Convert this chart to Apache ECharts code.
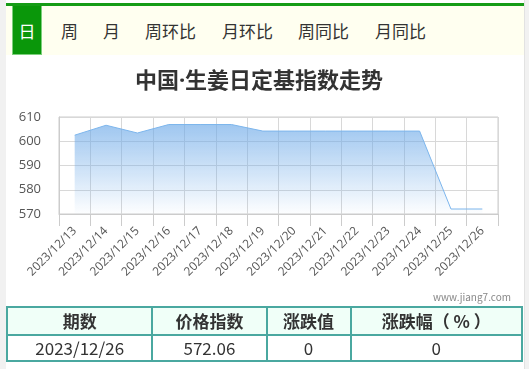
<!DOCTYPE html>
<html><head><meta charset="utf-8">
<script src="https://cdn.jsdelivr.net/npm/echarts@6/dist/echarts.min.js"></script>
<style>
html,body{margin:0;padding:0;width:529px;height:369px;overflow:hidden;background:#f1f1f1;font-family:"Noto Sans CJK SC","Noto Sans",sans-serif;}
#page{position:absolute;left:6px;top:0;width:518px;height:369px;background:#fff;border-right:1px solid #e2e2e2;}
#chart{position:absolute;left:0;top:0;width:529px;height:369px;}
#topline{position:absolute;left:6px;top:3px;width:518px;height:3px;background:#169c16;}
#tabs{position:absolute;left:6px;top:6px;width:518px;height:49px;background:#fffff0;}
.tab{position:absolute;top:0;height:49px;line-height:49px;font-size:17px;color:#333;}
.tab.sel{background:#0a970a;color:#fff;border:1px solid #7ccf7c;border-top:none;box-sizing:border-box;text-align:center;}
#tbl{position:absolute;left:6px;top:306px;border-collapse:collapse;width:517px;font-size:17px;color:#333;}
#tbl td{border:2px solid #4aa8a0;text-align:center;padding:0;line-height:22px;}
#tbl tr.h td{background:#f0fff8;font-weight:bold;height:26px;}
#tbl tr.b td{height:24px;}
#wm{position:absolute;right:18px;top:289px;font-size:10px;color:#888;}
</style></head>
<body>
<div id="page"></div>
<div id="chart"></div>
<div id="topline"></div>
<div id="tabs"></div>
<div id="wm">www.jiang7.com</div>
<table id="tbl"></table>
<script>
const categories = ["2023/12/13","2023/12/14","2023/12/15","2023/12/16","2023/12/17","2023/12/18","2023/12/19","2023/12/20","2023/12/21","2023/12/22","2023/12/23","2023/12/24","2023/12/25","2023/12/26"];
const values = [602.5,606.6,603.4,606.9,606.9,606.9,604.2,604.2,604.2,604.2,604.2,604.2,572.06,572.06];
const yTicks = [570,580,590,600,610];
const tabNames = ["日","周","月","周环比","月环比","周同比","月同比"];
const tabLefts = [6,55,97,139,216,292,369];
const tableHead = ["期数","价格指数","涨跌值","涨跌幅（ % ）"];
const tableRow = ["2023/12/26","572.06","0","0"];
const colWidths = [145,114,84,174];

const tabs = document.getElementById('tabs');
tabNames.forEach((t,i)=>{
  const d=document.createElement('div');
  d.className='tab'+(i===0?' sel':'');
  d.textContent=t;
  d.style.left=tabLefts[i]+'px';
  if(i===0){d.style.width='30px';}
  tabs.appendChild(d);
});
const tbl=document.getElementById('tbl');
const trh=document.createElement('tr');trh.className='h';
tableHead.forEach((t,i)=>{const td=document.createElement('td');td.textContent=t;td.style.width=colWidths[i]+'px';trh.appendChild(td);});
const trb=document.createElement('tr');trb.className='b';
tableRow.forEach(t=>{const td=document.createElement('td');td.textContent=t;trb.appendChild(td);});
tbl.appendChild(trh);tbl.appendChild(trb);

const chart = echarts.init(document.getElementById('chart'), null, {renderer:'canvas'});
chart.setOption({
  animation:false,
  title:{text:'中国·生姜日定基指数走势',left:254,top:66,textAlign:'center',
    textStyle:{fontSize:22,fontWeight:'bold',color:'#333',fontFamily:'"Noto Sans","Noto Sans CJK SC",sans-serif'}},
  grid:{left:59,right:31,top:117,bottom:155,show:true,borderColor:'#ccc',borderWidth:1,backgroundColor:'transparent'},
  xAxis:{type:'category',data:categories,boundaryGap:true,
    axisLine:{lineStyle:{color:'#ccc'}},
    axisTick:{show:true,length:12,lineStyle:{color:'#ccc'}},
    splitLine:{show:true,lineStyle:{color:'#d8d8d8'}},
    axisLabel:{rotate:45,fontSize:12,color:'#555',margin:15,interval:0,fontFamily:'"Open Sans",sans-serif'}},
  yAxis:{type:'value',min:yTicks[0],max:yTicks[yTicks.length-1],interval:10,
    axisLine:{show:true,lineStyle:{color:'#ccc'}},
    axisTick:{show:false},
    splitLine:{show:true,lineStyle:{color:'#d8d8d8'}},
    axisLabel:{fontSize:13,color:'#555',margin:18,fontFamily:'"Open Sans",sans-serif'}},
  series:[{type:'line',data:values,symbol:'none',
    lineStyle:{color:'#7cb5ec',width:1},
    areaStyle:{origin:'start',color:new echarts.graphic.LinearGradient(0,0,0,1,[
      {offset:0,color:'rgba(110,170,232,0.95)'},{offset:1,color:'rgba(110,170,232,0.02)'}])}}]
});
</script>
</body></html>
